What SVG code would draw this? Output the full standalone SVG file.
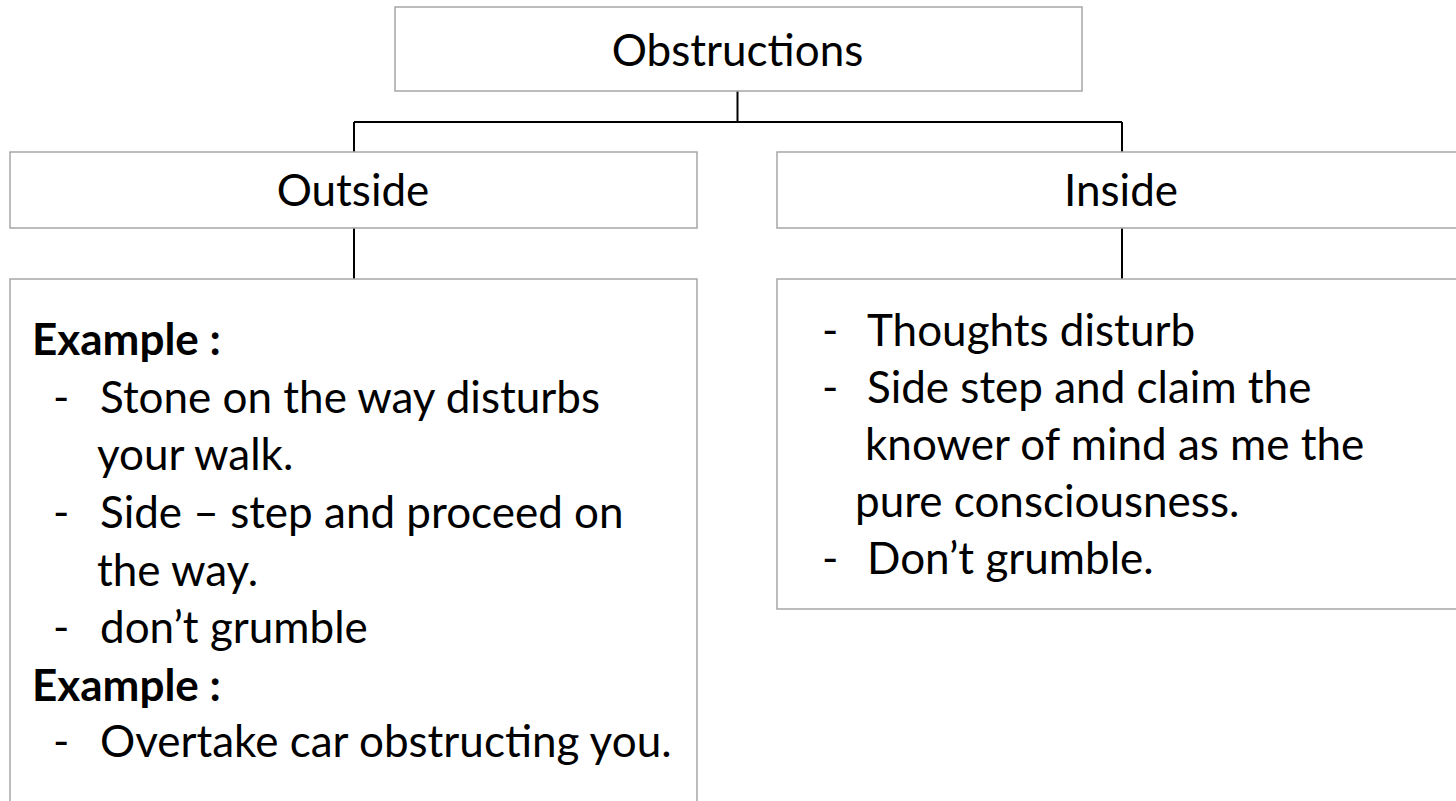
<svg xmlns="http://www.w3.org/2000/svg" width="1456" height="801" viewBox="0 0 1456 801">
<style>
.box{fill:#ffffff;stroke:#a6a6a6;stroke-width:1.5}
.conn{fill:none;stroke:#000000;stroke-width:2}
.t{font-family:Lato,"Liberation Sans",sans-serif;font-size:44px;fill:#000000}
.c{text-anchor:middle}
.b{font-weight:bold}
</style>
<rect width="1456" height="801" fill="#ffffff"/>
<g id="connectors">
<path class="conn" d="M737.5 91 V122 M354 122 H1122 M354 122 V152 M1122 122 V152 M354 228 V279 M1122 228 V279"/>
</g>
<g id="obstructions">
<rect class="box" x="395" y="7" width="687" height="84"/>
<text class="t c" x="737.5" y="66">Obstructions</text>
</g>
<g id="outside">
<rect class="box" x="10" y="152" width="687" height="76"/>
<text class="t c" x="353" y="206">Outside</text>
</g>
<g id="inside">
<rect class="box" x="777" y="152" width="690" height="76"/>
<text class="t c" x="1121" y="206">Inside</text>
</g>
<g id="outside-examples">
<rect class="box" x="10" y="279" width="687" height="530"/>
<text class="t b" x="32" y="355">Example :</text>
<text class="t" x="53" y="413">-</text><text class="t" x="100" y="413">Stone on the way disturbs</text>
<text class="t" x="97" y="470">your walk.</text>
<text class="t" x="53" y="528">-</text><text class="t" x="100" y="528">Side – step and proceed on</text>
<text class="t" x="97" y="586">the way.</text>
<text class="t" x="53" y="643">-</text><text class="t" x="100" y="643">don’t grumble</text>
<text class="t b" x="32" y="701">Example :</text>
<text class="t" x="53" y="757">-</text><text class="t" x="100" y="757">Overtake car obstructing you.</text>
</g>
<g id="inside-examples">
<rect class="box" x="777" y="279" width="690" height="330"/>
<text class="t" x="822" y="346">-</text><text class="t" x="867" y="346">Thoughts disturb</text>
<text class="t" x="822" y="403">-</text><text class="t" x="867" y="403">Side step and claim the</text>
<text class="t" x="865" y="460">knower of mind as me the</text>
<text class="t" x="855" y="517">pure consciousness.</text>
<text class="t" x="822" y="574">-</text><text class="t" x="867" y="574">Don’t grumble.</text>
</g>
</svg>
